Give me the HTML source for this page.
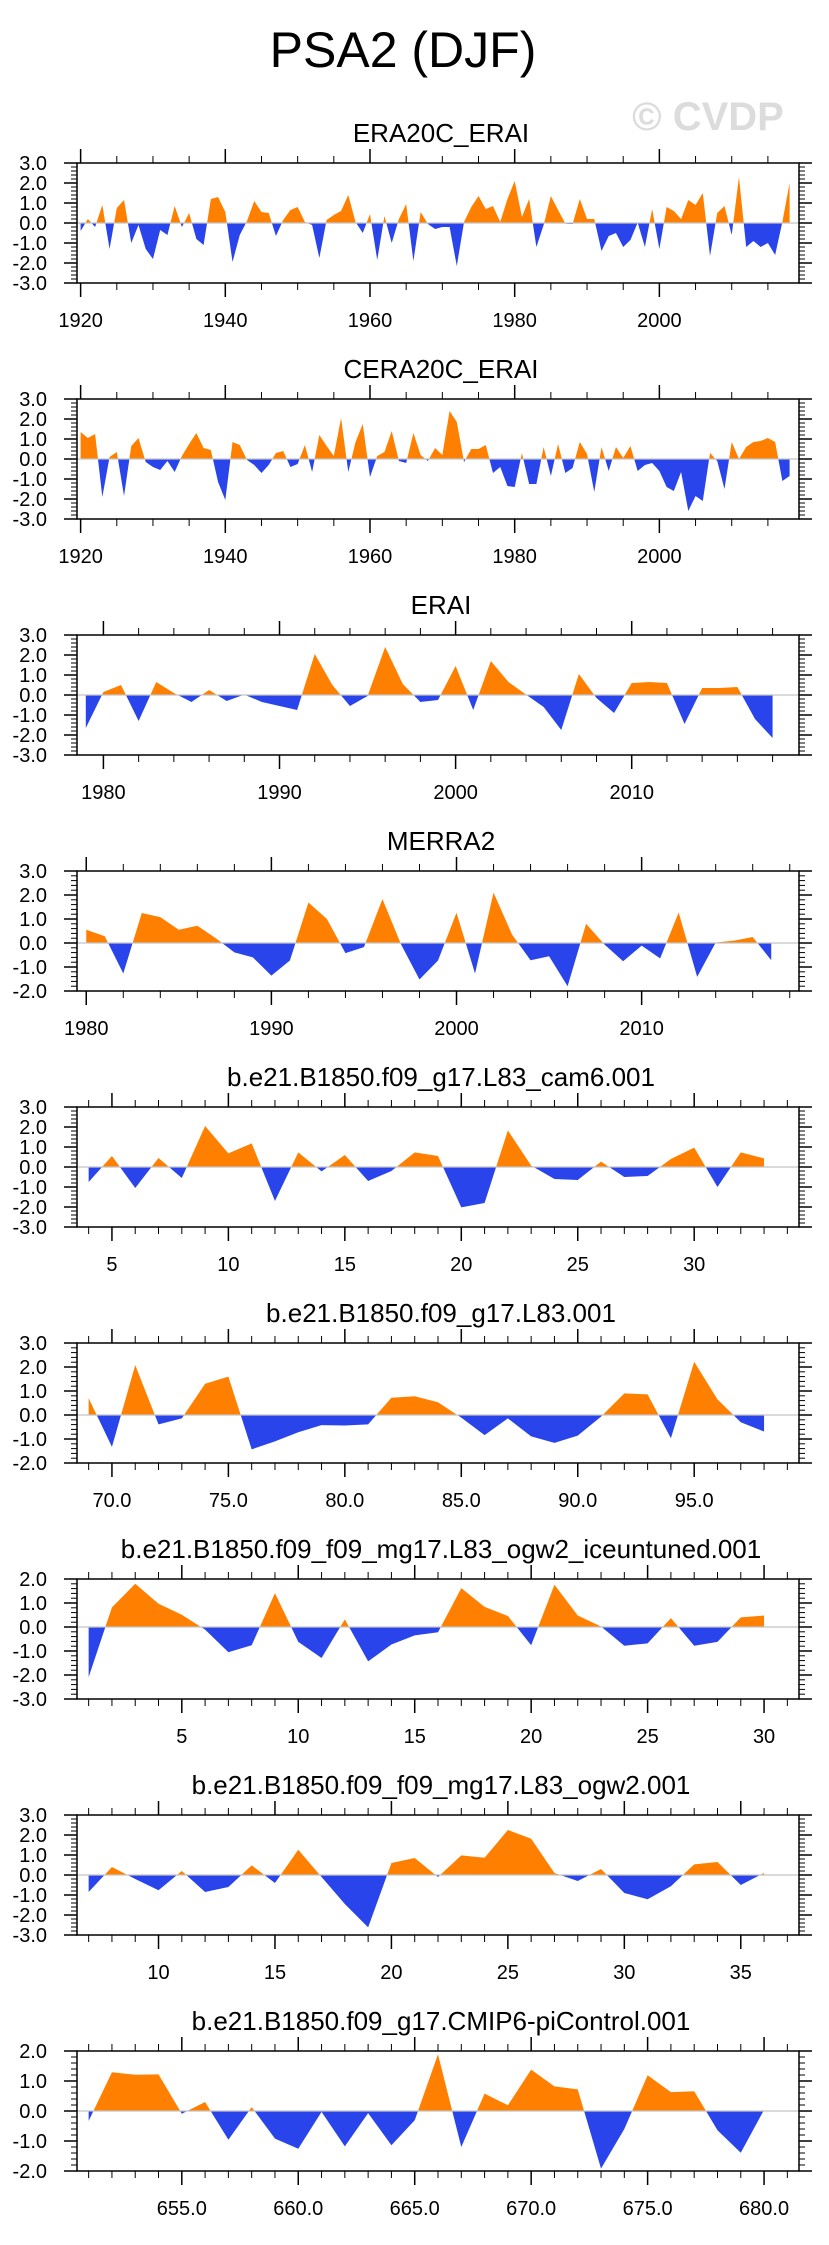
<!DOCTYPE html>
<html><head><meta charset="utf-8">
<style>
html,body{margin:0;padding:0;background:#fff;}
svg{display:block;font-family:"Liberation Sans",Arial,sans-serif;}
</style></head>
<body>
<svg id="chart" width="829" height="2245" viewBox="0 0 829 2245" xmlns="http://www.w3.org/2000/svg">
<text x="403" y="67" font-size="50" text-anchor="middle" fill="#000">PSA2 (DJF)</text>
<text x="708" y="130" font-size="40" font-weight="bold" text-anchor="middle" fill="#dcdcdc">© CVDP</text>
</svg>
<script>
const eraYears = [1920,1921,1922,1923,1924,1925,1926,1927,1928,1929,1930,1931,1932,1933,1934,1935,1936,1937,1938,1939,1940,1941,1942,1943,1944,1945,1946,1947,1948,1949,1950,1951,1952,1953,1954,1955,1956,1957,1958,1959,1960,1961,1962,1963,1964,1965,1966,1967,1968,1969,1970,1971,1972,1973,1974,1975,1976,1977,1978,1979,1980,1981,1982,1983,1984,1985,1986,1987,1988,1989,1990,1991,1992,1993,1994,1995,1996,1997,1998,1999,2000,2001,2002,2003,2004,2005,2006,2007,2008,2009,2010,2011,2012,2013,2014,2015,2016,2017,2018];
const era20cValues = [-0.4,0.2,-0.2,0.9,-1.3,0.75,1.15,-1.0,-0.1,-1.3,
-1.8,-0.35,-0.6,0.85,-0.2,0.5,-0.8,-1.1,1.2,1.3,
0.55,-1.95,-0.6,0.1,1.1,0.55,0.5,-0.65,0.15,0.65,
0.8,0.05,-0.1,-1.75,0.15,0.4,0.6,1.4,0.05,-0.5,
0.45,-1.85,0.35,-1.0,0.2,0.95,-1.9,0.55,-0.05,-0.3,
-0.2,-0.2,-2.15,0.05,0.8,1.35,0.7,0.85,0.05,1.2,
2.1,0.3,1.2,-1.2,-0.1,1.35,0.65,-0.03,-0.05,1.2,
0.2,0.2,-1.4,-0.65,-0.5,-1.2,-0.85,0.02,-1.2,0.7,
-1.3,0.8,0.6,0.2,1.15,0.9,1.5,-1.65,0.5,0.85,
-0.6,2.3,-1.2,-0.9,-1.2,-1.0,-1.6,0.05,2.0];
const cera20cValues = [1.35,1.05,1.25,-1.9,0.1,0.35,-1.85,0.65,1.05,-0.15,
-0.4,-0.55,-0.1,-0.65,0.15,0.75,1.3,0.55,0.45,-1.15,
-2.05,0.85,0.7,-0.05,-0.3,-0.7,-0.3,0.3,0.4,-0.4,
-0.25,0.7,-0.65,1.2,0.65,0.15,2.05,-0.65,0.85,1.75,
-0.9,0.15,0.35,1.4,-0.1,-0.2,1.3,0.2,-0.1,0.55,
0.2,2.4,1.85,-0.15,0.5,0.5,0.7,-0.7,-0.4,-1.35,
-1.4,0.3,-1.25,-1.25,0.6,-0.85,0.75,-0.7,-0.45,0.85,
0.25,-1.65,0.6,-0.6,0.6,0.05,0.65,-0.6,-0.3,-0.2,
-0.6,-1.4,-1.6,-0.65,-2.6,-1.85,-2.1,0.3,-0.1,-1.5,
0.85,0.0,0.6,0.85,0.9,1.05,0.85,-1.1,-0.85];
const eraiYears = [1979,1980,1981,1982,1983,1984,1985,1986,1987,1988,1989,1990,1991,1992,1993,1994,1995,1996,1997,1998,1999,2000,2001,2002,2003,2004,2005,2006,2007,2008,2009,2010,2011,2012,2013,2014,2015,2016,2017,2018];
const eraiValues = [-1.65,0.15,0.5,-1.3,0.65,0.1,-0.35,0.25,-0.3,0.02,
-0.35,-0.55,-0.75,2.05,0.5,-0.55,-0.05,2.4,0.55,-0.35,
-0.25,1.45,-0.75,1.7,0.65,0.02,-0.6,-1.75,1.05,-0.15,
-0.9,0.6,0.65,0.6,-1.45,0.35,0.35,0.4,-1.2,-2.15];
const merraYears = [1980,1981,1982,1983,1984,1985,1986,1987,1988,1989,1990,1991,1992,1993,1994,1995,1996,1997,1998,1999,2000,2001,2002,2003,2004,2005,2006,2007,2008,2009,2010,2011,2012,2013,2014,2015,2016,2017];
const merraValues = [0.55,0.28,-1.27,1.25,1.08,0.55,0.72,0.2,-0.39,-0.6,
-1.36,-0.73,1.69,1.0,-0.42,-0.17,1.83,-0.05,-1.52,-0.73,
1.26,-1.27,2.1,0.35,-0.72,-0.55,-1.8,0.8,-0.07,-0.76,
-0.11,-0.64,1.27,-1.41,0.02,0.1,0.25,-0.72];
const cam6Years = [4,5,6,7,8,9,10,11,12,13,14,15,16,17,18,19,20,21,22,23,24,25,26,27,28,29,30,31,32,33];
const cam6Values = [-0.75,0.55,-1.05,0.45,-0.55,2.05,0.68,1.18,-1.7,0.73,
-0.22,0.6,-0.7,-0.2,0.73,0.55,-2.02,-1.8,1.83,0.07,
-0.6,-0.65,0.27,-0.5,-0.45,0.4,0.97,-1.0,0.73,0.43];
const l83Years = [69,70,71,72,73,74,75,76,77,78,79,80,81,82,83,84,85,86,87,88,89,90,91,92,93,94,95,96,97,98];
const l83Values = [0.7,-1.33,2.08,-0.39,-0.14,1.3,1.6,-1.43,-1.1,-0.72,
-0.42,-0.44,-0.39,0.72,0.78,0.53,-0.11,-0.84,-0.14,-0.89,
-1.16,-0.86,-0.07,0.9,0.86,-0.97,2.22,0.65,-0.3,-0.69];
const iceYears = [1,2,3,4,5,6,7,8,9,10,11,12,13,14,15,16,17,18,19,20,21,22,23,24,25,26,27,28,29,30];
const iceValues = [-2.09,0.82,1.8,0.97,0.51,-0.11,-1.05,-0.76,1.41,-0.62,
-1.29,0.32,-1.43,-0.73,-0.35,-0.22,1.62,0.84,0.46,-0.76,
1.76,0.48,0.02,-0.78,-0.68,0.37,-0.78,-0.62,0.4,0.48];
const ogw2Years = [7,8,9,10,11,12,13,14,15,16,17,18,19,20,21,22,23,24,25,26,27,28,29,30,31,32,33,34,35,36];
const ogw2Values = [-0.85,0.4,-0.2,-0.76,0.2,-0.85,-0.6,0.48,-0.4,1.26,
-0.1,-1.45,-2.62,0.6,0.85,-0.1,0.98,0.86,2.25,1.81,
0.1,-0.3,0.3,-0.9,-1.21,-0.56,0.53,0.65,-0.5,0.1];
const piYears = [651,652,653,654,655,656,657,658,659,660,661,662,663,664,665,666,667,668,669,670,671,672,673,674,675,676,677,678,679,680];
const piValues = [-0.33,1.29,1.21,1.22,-0.09,0.3,-0.96,0.13,-0.92,-1.26,
-0.03,-1.18,-0.07,-1.14,-0.31,1.89,-1.2,0.58,0.19,1.38,
0.82,0.72,-1.92,-0.6,1.19,0.63,0.66,-0.64,-1.39,0.04];

const plotTitles = ["ERA20C_ERAI","CERA20C_ERAI","ERAI","MERRA2","b.e21.B1850.f09_g17.L83_cam6.001","b.e21.B1850.f09_g17.L83.001","b.e21.B1850.f09_f09_mg17.L83_ogw2_iceuntuned.001","b.e21.B1850.f09_f09_mg17.L83_ogw2.001","b.e21.B1850.f09_g17.CMIP6-piControl.001"];
const xLabelTicks1 = [1920,1940,1960,1980,2000];
const xLabelTicks2 = [1980,1990,2000,2010];
const xLabelTicks5 = [5,10,15,20,25,30];
const xLabelTicks6 = [70,75,80,85,90,95];
const xLabelTicks8 = [10,15,20,25,30,35];
const xLabelTicks9 = [655,660,665,670,675,680];

const NS = "http://www.w3.org/2000/svg";
const svg = document.getElementById("chart");
function mk(tag, attrs, parent){ const e=document.createElementNS(NS,tag); for(const k in attrs) e.setAttribute(k,attrs[k]); (parent||svg).appendChild(e); return e; }

const plots = [
 {xs:eraYears, vs:era20cValues, x0:eraYears[0]-0.5, x1:eraYears[eraYears.length-1]+1.3, ymin:-3, ymax:3, maj:xLabelTicks1, minStep:5, dec:0},
 {xs:eraYears, vs:cera20cValues, x0:eraYears[0]-0.5, x1:eraYears[eraYears.length-1]+1.3, ymin:-3, ymax:3, maj:xLabelTicks1, minStep:5, dec:0},
 {xs:eraiYears, vs:eraiValues, x0:eraiYears[0]-0.5, x1:eraiYears[eraiYears.length-1]+1.5, ymin:-3, ymax:3, maj:xLabelTicks2, minStep:2, dec:0},
 {xs:merraYears, vs:merraValues, x0:merraYears[0]-0.5, x1:merraYears[merraYears.length-1]+1.5, ymin:-2, ymax:3, maj:xLabelTicks2, minStep:2, dec:0},
 {xs:cam6Years, vs:cam6Values, x0:cam6Years[0]-0.5, x1:cam6Years[cam6Years.length-1]+1.5, ymin:-3, ymax:3, maj:xLabelTicks5, minStep:1, dec:0},
 {xs:l83Years, vs:l83Values, x0:l83Years[0]-0.5, x1:l83Years[l83Years.length-1]+1.5, ymin:-2, ymax:3, maj:xLabelTicks6, minStep:1, dec:1},
 {xs:iceYears, vs:iceValues, x0:iceYears[0]-0.5, x1:iceYears[iceYears.length-1]+1.5, ymin:-3, ymax:2, maj:xLabelTicks5, minStep:1, dec:0},
 {xs:ogw2Years, vs:ogw2Values, x0:ogw2Years[0]-0.5, x1:ogw2Years[ogw2Years.length-1]+1.5, ymin:-3, ymax:3, maj:xLabelTicks8, minStep:1, dec:0},
 {xs:piYears, vs:piValues, x0:piYears[0]-0.5, x1:piYears[piYears.length-1]+1.5, ymin:-2, ymax:2, maj:xLabelTicks9, minStep:1, dec:1}
];

const L=77, R=799, H=120;
plots.forEach((p,k)=>{
  const top = 163 + 236*k, bot = top + H;
  const xS = v => L + (v - p.x0)/(p.x1 - p.x0)*(R-L);
  const yS = v => bot - (v - p.ymin)/(p.ymax - p.ymin)*H;
  const g = mk("g",{});
  
  
  const t = mk("text",{x:441,y:top-21,"font-size":26,"text-anchor":"middle",fill:"#000"},g);
  
  
  t.textContent = plotTitles[k];
  const z = yS(0);
  const defs = mk("defs",{},g);
  const cu = mk("clipPath",{id:"cu"+k},defs); mk("rect",{x:L,y:top,width:R-L,height:z-top},cu);
  const cd = mk("clipPath",{id:"cd"+k},defs); mk("rect",{x:L,y:z,width:R-L,height:bot-z},cd);
  let d = "M"+xS(p.xs[0])+","+z;
  p.xs.forEach((x,i)=>{ d += " L"+xS(x).toFixed(2)+","+yS(p.vs[i]).toFixed(2); });
  d += " L"+xS(p.xs[p.xs.length-1])+","+z+" Z";
  const pos = mk("path",{d:d,fill:"#ff8000","clip-path":"url(#cu"+k+")"},g);
  
  
  const neg = mk("path",{d:d,fill:"#2944ea","clip-path":"url(#cd"+k+")"},g);
  
  
  const zl = mk("line",{x1:L,x2:R,y1:z,y2:z,stroke:"#c4c4c4","stroke-width":1.2},g);
  
  
  const fr = mk("rect",{x:L,y:top,width:R-L,height:H,fill:"none",stroke:"#000","stroke-width":1.5},g);
  
  
  for(let v=p.ymin; v<=p.ymax+1e-9; v=Math.round((v+0.2)*10)/10){
    const y=yS(v); const major = Math.abs(v-Math.round(v))<1e-6;
    const len = major?13:6;
    mk("line",{x1:L-len,x2:L,y1:y,y2:y,stroke:"#000","stroke-width":major?1.5:1},g);
    mk("line",{x1:R,x2:R+len,y1:y,y2:y,stroke:"#000","stroke-width":major?1.5:1},g);
    if(major){
      const yl = mk("text",{x:47,y:y+7,"font-size":20,"text-anchor":"end",fill:"#000"},g);
      
      
      yl.textContent = v.toFixed(1);
    }
  }
  const first = Math.ceil(p.x0/p.minStep)*p.minStep;
  for(let v=first; v<=p.x1; v+=p.minStep){
    const x=xS(v); const major = p.maj.indexOf(v)>=0;
    const len = major?14:7;
    mk("line",{x1:x,x2:x,y1:bot,y2:bot+len,stroke:"#000","stroke-width":major?1.5:1},g);
    mk("line",{x1:x,x2:x,y1:top-len,y2:top,stroke:"#000","stroke-width":major?1.5:1},g);
  }
  p.maj.forEach(v=>{
    const xl = mk("text",{x:xS(v),y:bot+44,"font-size":20,"text-anchor":"middle",fill:"#000"},g);
    
    
    xl.textContent = v.toFixed(p.dec);
  });
});
</script>
</body></html>
